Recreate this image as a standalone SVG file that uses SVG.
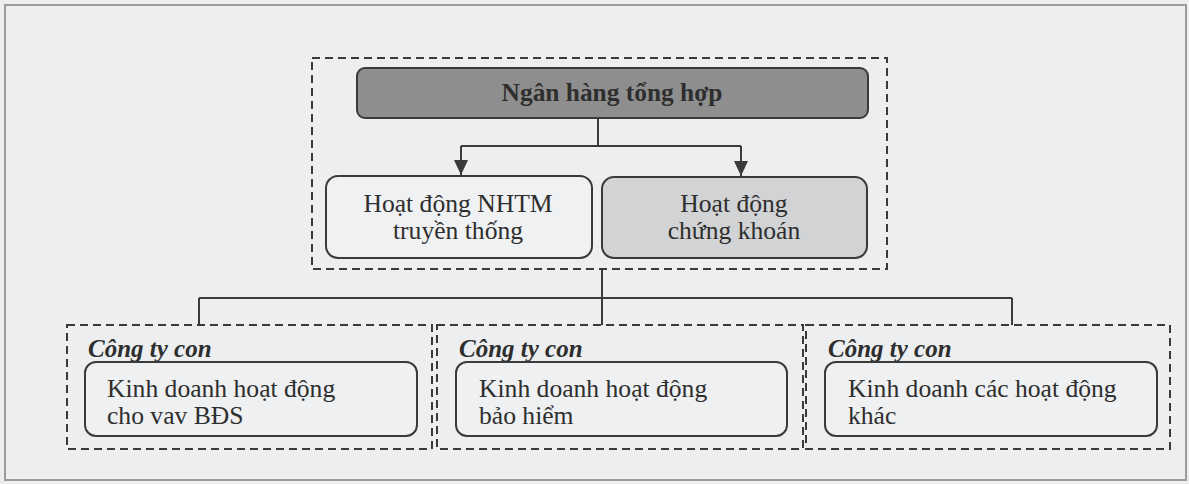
<svg xmlns="http://www.w3.org/2000/svg" width="1189" height="484" viewBox="0 0 1189 484">
<style>
  .bg{fill:#eceef0}
  .frame{fill:none;stroke:#9c9c9c;stroke-width:2}
  .dash{fill:none;stroke:#3a3a3a;stroke-width:2;stroke-dasharray:8 5}
  .box{stroke:#3a3a3a;stroke-width:2}
  .conn{fill:none;stroke:#3a3a3a;stroke-width:2}
  .t{font-family:"Liberation Serif","Times New Roman",serif;font-size:25.6px;fill:#2e2e2e}
  .c{text-anchor:middle}
  .b{font-weight:bold;font-size:25.4px}
  .sub{font-family:"Liberation Serif","Times New Roman",serif;font-size:25px;font-weight:bold;font-style:italic;fill:#2e2e2e}
</style>
<defs>
  <marker id="arr" viewBox="0 0 15 14" refX="15" refY="7" markerWidth="15" markerHeight="14" markerUnits="userSpaceOnUse" orient="auto">
    <path d="M0,0 L15,7 L0,14 z" fill="#3a3a3a"/>
  </marker>
</defs>
<rect class="bg" x="0" y="0" width="1189" height="484"/>
<rect class="frame" x="5" y="5" width="1181" height="475"/>

<g id="group-top">
  <rect class="dash" x="312" y="58" width="575" height="211"/>
</g>

<g id="node-ngan-hang">
  <rect class="box" x="357" y="68" width="511" height="50" rx="8" fill="#8e8e8e"/>
  <text class="t b c" x="612" y="101">Ngân hàng tổng hợp</text>
</g>

<g id="node-nhtm">
  <rect class="box" x="326" y="176" width="266" height="82" rx="12" fill="#f0f1f2"/>
  <text class="t c" x="458" y="212">Hoạt động NHTM</text>
  <text class="t c" x="458" y="239">truyền thống</text>
</g>

<g id="node-chung-khoan">
  <rect class="box" x="602" y="177" width="265" height="81" rx="12" fill="#d2d3d4"/>
  <text class="t c" x="734" y="212">Hoạt động</text>
  <text class="t c" x="734" y="239">chứng khoán</text>
</g>

<g id="node-bds">
  <rect class="dash" x="67" y="325" width="365" height="124"/>
  <text class="sub" x="88" y="357">Công ty con</text>
  <rect class="box" x="85" y="362" width="332" height="74" rx="11" fill="#eff0f1"/>
  <text class="t" x="107" y="397">Kinh doanh hoạt động</text>
  <text class="t" x="107" y="424">cho vav BĐS</text>
</g>

<g id="node-bao-hiem">
  <rect class="dash" x="437" y="325" width="366" height="124"/>
  <text class="sub" x="459" y="357">Công ty con</text>
  <rect class="box" x="456" y="362" width="331" height="74" rx="11" fill="#eff0f1"/>
  <text class="t" x="479" y="397">Kinh doanh hoạt động</text>
  <text class="t" x="479" y="424">bảo hiểm</text>
</g>

<g id="node-khac">
  <rect class="dash" x="806" y="325" width="364" height="124"/>
  <text class="sub" x="828" y="357">Công ty con</text>
  <rect class="box" x="825" y="362" width="332" height="74" rx="11" fill="#eff0f1"/>
  <text class="t" x="848" y="397">Kinh doanh các hoạt động</text>
  <text class="t" x="848" y="424">khác</text>
</g>

<g id="connectors">
  <path class="conn" d="M598,118 V146"/>
  <path class="conn" d="M461,146 H741"/>
  <path class="conn" d="M461,146 V175" marker-end="url(#arr)"/>
  <path class="conn" d="M741,146 V176" marker-end="url(#arr)"/>
  <path class="conn" d="M602,269 V325"/>
  <path class="conn" d="M199,298 H1012"/>
  <path class="conn" d="M199,298 V325"/>
  <path class="conn" d="M1012,298 V325"/>
</g>
</svg>
